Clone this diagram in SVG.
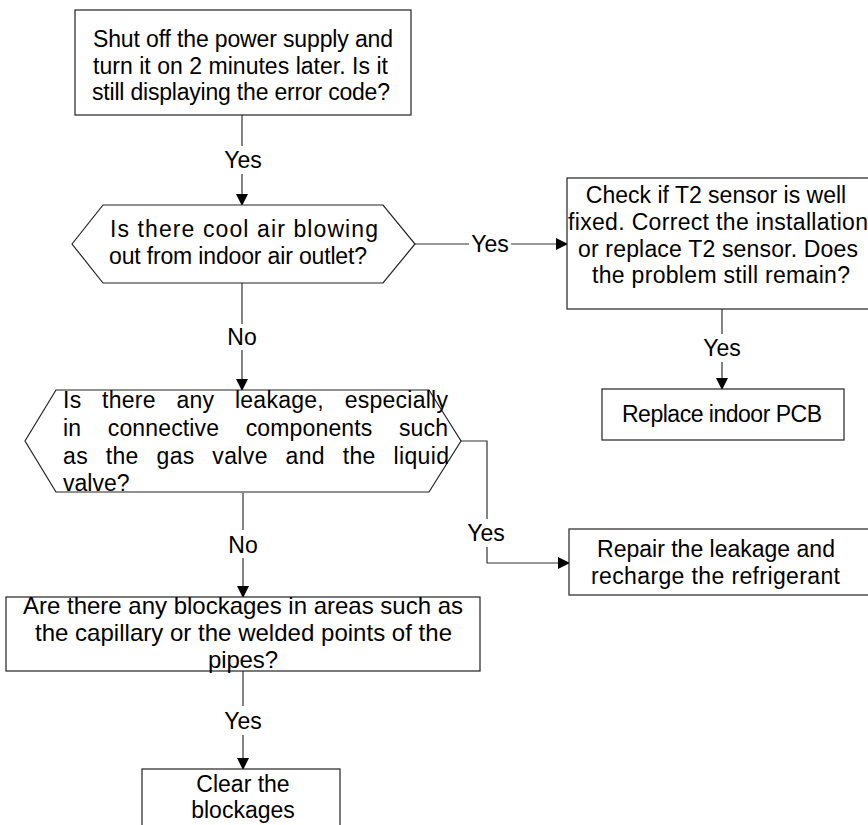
<svg xmlns="http://www.w3.org/2000/svg" width="868" height="825" viewBox="0 0 868 825">
<style>
.box{fill:#fff;stroke:#222;stroke-width:1.2}
.ln{fill:none;stroke:#333;stroke-width:1.2}
text{font-family:"Liberation Sans",Arial,sans-serif;font-size:23px;fill:#000}
.c{text-anchor:middle}
.big{font-size:24px}
</style>
<defs>
<marker id="ah" markerWidth="12" markerHeight="12" refX="11" refY="6" orient="auto" markerUnits="userSpaceOnUse">
<path d="M0,0 L12,6 L0,12 Z" fill="#000"/>
</marker>
</defs>
<g id="connectors">
<path class="ln" d="M242,115 V146"/>
<path class="ln" d="M242,174 V205" marker-end="url(#ah)"/>
<text class="c" x="243" y="168">Yes</text>
<path class="ln" d="M415,244 H469"/>
<path class="ln" d="M511,244 H567" marker-end="url(#ah)"/>
<text class="c" x="490" y="252">Yes</text>
<path class="ln" d="M722,309 V334"/>
<path class="ln" d="M722,362 V389" marker-end="url(#ah)"/>
<text class="c" x="722" y="356">Yes</text>
<path class="ln" d="M242,283 V324"/>
<path class="ln" d="M242,350 V390" marker-end="url(#ah)"/>
<text class="c" x="242" y="345">No</text>
<path class="ln" d="M461,441 H487 V519"/>
<path class="ln" d="M487,547 V563 H569" marker-end="url(#ah)"/>
<text class="c" x="486" y="541">Yes</text>
<path class="ln" d="M243,493 V530"/>
<path class="ln" d="M243,558 V597" marker-end="url(#ah)"/>
<text class="c" x="243" y="553">No</text>
<path class="ln" d="M243,671 V706"/>
<path class="ln" d="M243,735 V769" marker-end="url(#ah)"/>
<text class="c" x="243" y="729">Yes</text>
</g>
<g id="n1">
<rect class="box" x="75" y="10" width="336" height="105"/>
<text x="93" y="47" textLength="300" lengthAdjust="spacing">Shut off the power supply and</text>
<text x="93" y="74" textLength="295" lengthAdjust="spacing">turn it on 2 minutes later. Is it</text>
<text x="92" y="100" textLength="298" lengthAdjust="spacing">still displaying the error code?</text>
</g>
<g id="n2">
<polygon class="box" points="72,244 103,205 383,205 415,244 383,283 103,283"/>
<text x="110" y="237" textLength="268" lengthAdjust="spacing">Is there cool air blowing</text>
<text x="109" y="264" textLength="258" lengthAdjust="spacing">out from indoor air outlet?</text>
</g>
<g id="n3">
<rect class="box" x="567" y="178" width="304" height="131"/>
<text class="c" x="716" y="203" font-size="21">Check if T2 sensor is well</text>
<text x="568" y="230" textLength="300" lengthAdjust="spacing">fixed. Correct the installation</text>
<text x="578" y="257" textLength="280" lengthAdjust="spacing">or replace T2 sensor. Does</text>
<text x="592" y="283" textLength="258" lengthAdjust="spacing">the problem still remain?</text>
</g>
<g id="n4">
<rect class="box" x="602" y="389" width="242" height="51"/>
<text x="622" y="422" textLength="200" lengthAdjust="spacing">Replace indoor PCB</text>
</g>
<g id="n5">
<polygon class="box" points="25,441 56,390 429,390 461,441 429,492 56,492"/>
<text x="63" y="408" word-spacing="14" textLength="385" lengthAdjust="spacing">Is there any leakage, especially</text>
<text x="63" y="436" word-spacing="20" textLength="385" lengthAdjust="spacing">in connective components such</text>
<text x="63" y="464" word-spacing="11" textLength="386" lengthAdjust="spacing">as the gas valve and the liquid</text>
<text x="63" y="491">valve?</text>
</g>
<g id="n6">
<rect class="box" x="569" y="529" width="302" height="66"/>
<text class="c" x="716" y="557" font-size="22">Repair the leakage and</text>
<text x="591" y="584" font-size="24" textLength="249" lengthAdjust="spacing">recharge the refrigerant</text>
</g>
<g id="n7">
<rect class="box" x="6" y="597" width="474" height="74"/>
<text class="big" x="23" y="614" textLength="440" lengthAdjust="spacing">Are there any blockages in areas such as</text>
<text class="big" x="35" y="641" textLength="417" lengthAdjust="spacing">the capillary or the welded points of the</text>
<text class="big" x="208" y="668" textLength="70" lengthAdjust="spacing">pipes?</text>
</g>
<g id="n8">
<rect class="box" x="142" y="769" width="198" height="70"/>
<text class="c" x="243" y="792">Clear the</text>
<text class="c" x="243" y="818">blockages</text>
</g>
</svg>
